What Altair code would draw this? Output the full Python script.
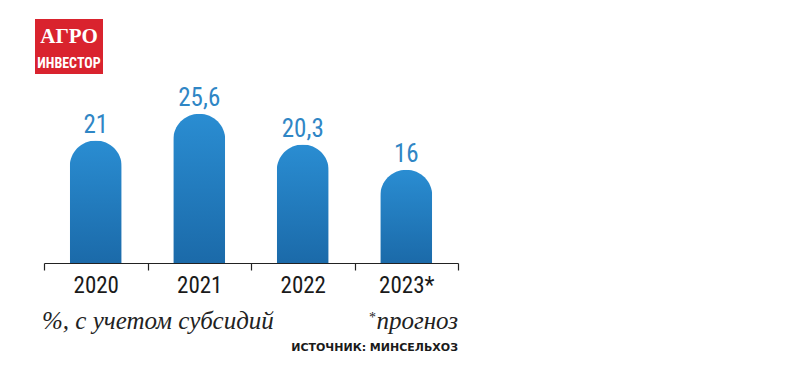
import altair as alt
import pandas as pd

years = ["2020", "2021", "2022", "2023*"]
values = [21.0, 25.6, 20.3, 16.0]
value_labels = ["21", "25,6", "20,3", "16"]

df = pd.DataFrame({"year": years, "value": values, "label": value_labels})

NARROW = "Liberation Sans Narrow, Roboto Condensed, DejaVu Sans Condensed, Arial Narrow, sans-serif"
SERIF = "Liberation Serif"

x_enc = alt.X("year:N", sort=years, title=None,
              scale=alt.Scale(paddingInner=0, paddingOuter=0),
              axis=alt.Axis(labelAngle=0, tickBand="extent", domainColor="#222222",
                            tickColor="#222222", tickSize=7, domainWidth=1.2, tickWidth=1.2,
                            labelFont=NARROW, labelFontSize=23, labelColor="#1a1a1a",
                            labelPadding=4, grid=False))
y_enc = alt.Y("value:Q", scale=alt.Scale(domain=[0, 30], nice=False), axis=None)

bars = alt.Chart(df).mark_bar(
    size=52, cornerRadiusTopLeft=26, cornerRadiusTopRight=26,
    color=alt.Gradient(gradient="linear",
                       stops=[alt.GradientStop(color="#2a8dd2", offset=0),
                              alt.GradientStop(color="#1b6aa9", offset=1)],
                       x1=1, x2=1, y1=0, y2=1)
).encode(x=x_enc, y=y_enc)

labels = alt.Chart(df).mark_text(
    baseline="alphabetic", dy=-8, font=NARROW, fontSize=25, color="#2f86c5"
).encode(x=alt.X("year:N", sort=years), y="value:Q", text="label:N")

logo_df = pd.DataFrame({"a": [0]})

logo_rect = alt.Chart(logo_df).mark_rect(color="#d9232e").encode(
    x=alt.value(-9), x2=alt.value(59), y=alt.value(-69), y2=alt.value(-14))
logo_t1 = alt.Chart(logo_df).mark_text(
    text="АГРО", font=SERIF, fontWeight="bold",
    fontSize=21, color="white", align="center", baseline="alphabetic"
).encode(x=alt.value(25), y=alt.value(-45))
logo_t2 = alt.Chart(logo_df).mark_text(
    text="ИНВЕСТОР", font=NARROW, fontWeight="bold",
    fontSize=14, color="white", align="center", baseline="alphabetic"
).encode(x=alt.value(25), y=alt.value(-20))

note1 = alt.Chart(logo_df).mark_text(
    text="%, с учетом субсидий", font=SERIF,
    fontStyle="italic", fontSize=25, color="#222222", align="left", baseline="alphabetic"
).encode(x=alt.value(-2), y=alt.value(241))
note2 = alt.Chart(logo_df).mark_text(
    text="прогноз", font=SERIF,
    fontStyle="italic", fontSize=25, color="#222222", align="right", baseline="alphabetic"
).encode(x=alt.value(414), y=alt.value(241))
note2_star = alt.Chart(logo_df).mark_text(
    text="*", font=SERIF,
    fontSize=14, color="#222222", align="right", baseline="alphabetic"
).encode(x=alt.value(332), y=alt.value(234))
source = alt.Chart(logo_df).mark_text(
    text="ИСТОЧНИК: МИНСЕЛЬХОЗ", font="DejaVu Sans, sans-serif", fontWeight="bold",
    fontSize=11, color="#1a1a1a", align="right", baseline="alphabetic"
).encode(x=alt.value(414), y=alt.value(263))

chart = alt.layer(bars, labels, logo_rect, logo_t1, logo_t2, note1, note2, note2_star, source).properties(
    width=414, height=175,
    autosize=alt.AutoSizeParams(type="none"),
    padding={"left": 36, "top": 80, "right": 330, "bottom": 100},
    background="white"
).configure_view(stroke=None)

chart.save("out.html", embed_options={"renderer": "svg", "actions": False})
